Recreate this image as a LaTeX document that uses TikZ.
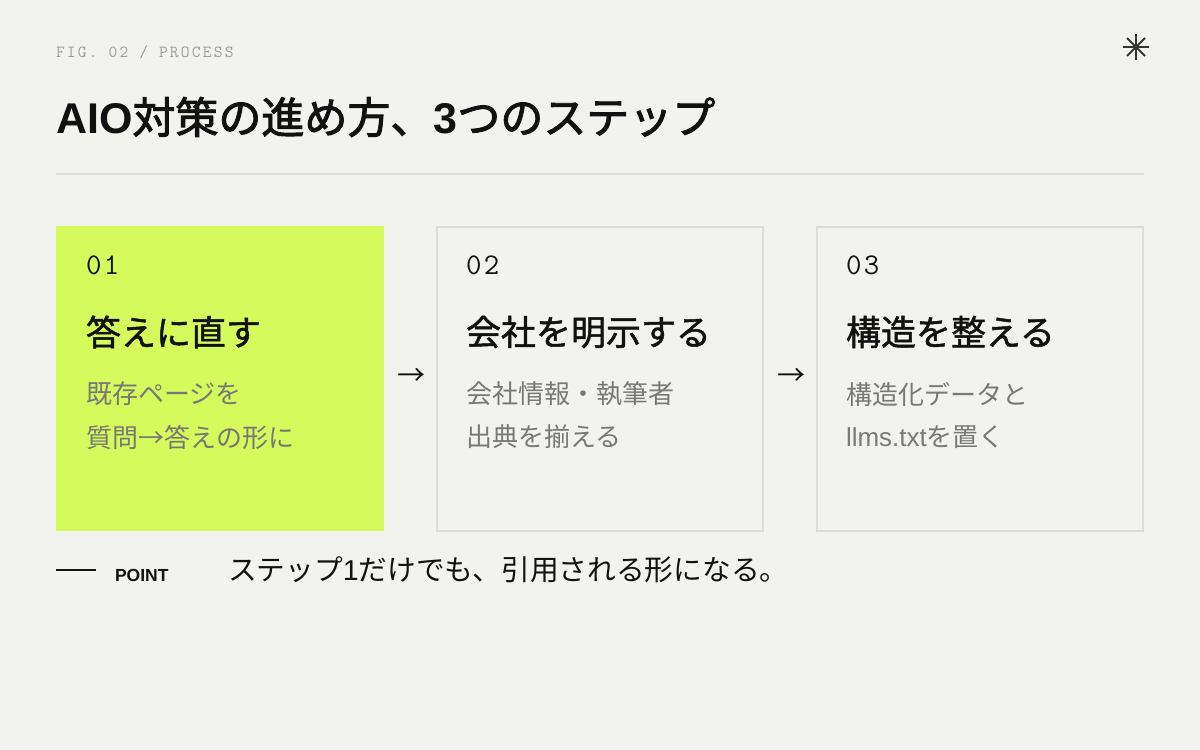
\documentclass[tikz,border=0pt]{standalone}
\usepackage{fontspec}
\setmainfont{Noto Sans CJK JP}
\newfontfamily\lat{Liberation Sans}
\newfontfamily\jpbold[FakeBold=2.2]{Noto Sans CJK JP}
\newfontfamily\jpmed[FakeBold=1.4]{Noto Sans CJK JP}
\newfontfamily\figmono[LetterSpace=13]{Latin Modern Mono}
\newfontfamily\nummono[LetterSpace=8]{Latin Modern Mono}
\definecolor{bg}{HTML}{F2F2EE}
\definecolor{lime}{HTML}{D4FA5C}
\definecolor{edge}{HTML}{DCDCD8}
\definecolor{rulec}{HTML}{DDDDD9}
\definecolor{desc}{HTML}{787876}
\definecolor{figc}{HTML}{9C9C98}
\definecolor{ink}{HTML}{111111}
\tikzset{
  txt/.style={inner sep=0pt, outer sep=0pt, anchor=west, text=ink},
  stepbox/.style={draw=edge, line width=2pt, fill=bg, minimum width=326pt, minimum height=304pt, anchor=north west, inner sep=0pt, outer sep=0pt},
  numtxt/.style={txt, font=\nummono\fontsize{30}{30}\selectfont},
  headtxt/.style={txt, font=\jpmed\fontsize{35}{40}\selectfont},
  desctxt/.style={txt, text=desc, font=\fontsize{26}{30}\selectfont},
  arrowtxt/.style={inner sep=0pt, text=ink, font=\fontsize{28}{30}\selectfont},
}
\begin{document}
\begin{tikzpicture}[x=1pt,y=-1pt]
\fill[bg] (0,0) rectangle (1200,750);
\useasboundingbox (0,0) rectangle (1200,750);

% header
\node[txt, text=figc, font=\figmono\fontsize{17}{18}\selectfont] (fig) at (56,52) {FIG. 02 / PROCESS};
\node[txt, font=\jpbold\fontsize{43}{50}\selectfont] (title) at (56,117) {{\lat\bfseries AIO}対策の進め方、{\lat\bfseries 3}つのステップ};
\draw[rulec, line width=1.5pt] (56,174) -- (1144,174);

% asterisk
\coordinate (ast) at (1136,47);
\draw[ink!85, line width=2pt] ([yshift=-13pt]ast) -- ([yshift=13pt]ast);
\draw[ink!85, line width=2pt] ([xshift=-13pt]ast) -- ([xshift=13pt]ast);
\draw[ink!85, line width=2pt] ([xshift=-9pt,yshift=-9pt]ast) -- ([xshift=9pt,yshift=9pt]ast);
\draw[ink!85, line width=2pt] ([xshift=-9pt,yshift=9pt]ast) -- ([xshift=9pt,yshift=-9pt]ast);

% boxes
\node[stepbox, draw=none, fill=lime, minimum width=328pt, minimum height=305pt] (b1) at (56,226) {};
\node[stepbox] (b2) at (437,227) {};
\node[stepbox] (b3) at (817,227) {};

% box 1
\node[numtxt] (n1) at (86,265) {01};
\node[headtxt] (h1) at (86,332) {答えに直す};
\node[desctxt] (d1a) at (86,394) {既存ページを};
\node[desctxt] (d1b) at (86,437) {質問→答えの形に};

% box 2
\node[numtxt] (n2) at (466,265) {02};
\node[headtxt] (h2) at (466,332) {会社を明示する};
\node[desctxt] (d2a) at (466,394) {会社情報・執筆者};
\node[desctxt] (d2b) at (466,437) {出典を揃える};

% box 3
\node[numtxt] (n3) at (846,265) {03};
\node[headtxt] (h3) at (846,332) {構造を整える};
\node[desctxt] (d3a) at (846,394) {構造化データと};
\node[desctxt] (d3b) at (846,437) {{\lat llms.txt}を置く};

% arrows
\node[arrowtxt] (a1) at (411,377) {→};
\node[arrowtxt] (a2) at (791,377) {→};

% footer
\draw[ink, line width=1.5pt] (56,570) -- (96,570);
\node[txt, font=\lat\bfseries\fontsize{17.5}{20}\selectfont] (pt) at (115,575) {POINT};
\node[txt, font=\fontsize{28.7}{32}\selectfont] (msg) at (228,570) {ステップ{\lat 1}だけでも、引用される形になる。};
\end{tikzpicture}
\end{document}
